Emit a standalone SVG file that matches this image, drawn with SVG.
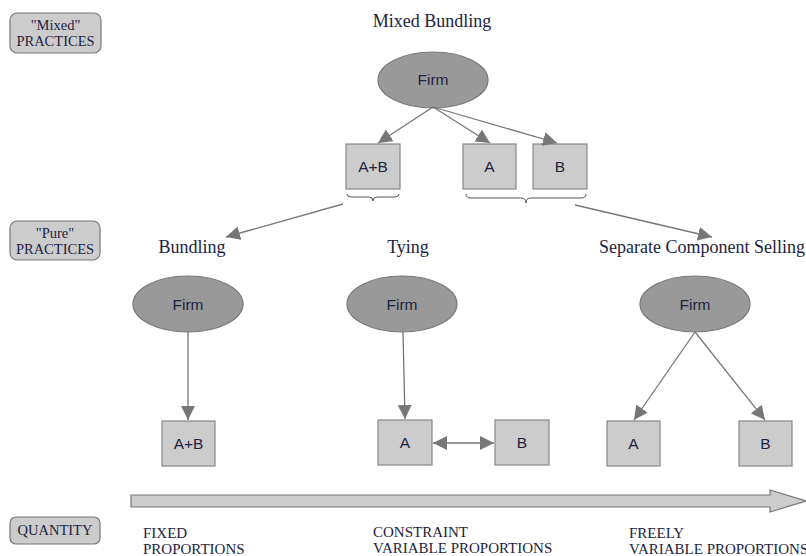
<svg xmlns="http://www.w3.org/2000/svg" width="806" height="556" viewBox="0 0 806 556">
<defs>
<marker id="ah" viewBox="0 0 10 10" refX="10" refY="5" markerWidth="14" markerHeight="14" markerUnits="userSpaceOnUse" orient="auto-start-reverse">
<path d="M0,0 L10,5 L0,10 z" fill="#777"/>
</marker>
</defs>
<style>
.tag{fill:#cccccc;stroke:#777;stroke-width:1.2}
.tagt{font-family:"Liberation Serif",serif;font-size:14.5px;fill:#1c2340;text-anchor:middle}
.title{font-family:"Liberation Serif",serif;font-size:18px;fill:#1c2340;text-anchor:middle}
.qt{font-family:"Liberation Serif",serif;font-size:15px;fill:#1c2340}
.firm{fill:#999999;stroke:#777;stroke-width:1.2}
.box{fill:#cccccc;stroke:#888;stroke-width:1.2}
.nt{font-family:"Liberation Sans",Arial,sans-serif;font-size:15.5px;fill:#1c2340;text-anchor:middle}
.edge{stroke:#777;stroke-width:1.3;fill:none}
.brace{stroke:#555;stroke-width:1;fill:none}
</style>
<rect width="806" height="556" fill="#fff"/>

<g id="tag-mixed"><rect class="tag" x="10" y="13" width="91" height="40" rx="7"/><text class="tagt" x="55.5" y="30">"Mixed"</text><text class="tagt" x="55.5" y="46">PRACTICES</text></g>
<g id="tag-pure"><rect class="tag" x="10" y="221" width="90" height="39" rx="7"/><text class="tagt" x="55" y="238">"Pure"</text><text class="tagt" x="55" y="254">PRACTICES</text></g>
<g id="tag-quantity"><rect class="tag" x="10" y="517" width="90" height="27" rx="6"/><text class="tagt" x="55" y="535">QUANTITY</text></g>

<g id="titles">
<text class="title" x="432" y="27">Mixed Bundling</text>
<text class="title" x="192" y="253">Bundling</text>
<text class="title" x="408" y="253">Tying</text>
<text class="title" x="702" y="253">Separate Component Selling</text>
</g>

<g id="firm-top"><ellipse class="firm" cx="433" cy="80" rx="55" ry="28"/><text class="nt" x="433" y="85">Firm</text></g>
<g id="mb-ab"><rect class="box" x="346" y="144" width="54" height="45"/><text class="nt" x="373" y="172">A+B</text></g>
<g id="mb-a"><rect class="box" x="463" y="144" width="53" height="45"/><text class="nt" x="489.5" y="172">A</text></g>
<g id="mb-b"><rect class="box" x="533" y="144" width="54" height="45"/><text class="nt" x="560" y="172">B</text></g>

<g id="firm-bundling"><ellipse class="firm" cx="188" cy="304" rx="55" ry="28"/><text class="nt" x="188" y="310">Firm</text></g>
<g id="firm-tying"><ellipse class="firm" cx="402" cy="304" rx="55" ry="28"/><text class="nt" x="402" y="310">Firm</text></g>
<g id="firm-separate"><ellipse class="firm" cx="695" cy="304" rx="55" ry="28"/><text class="nt" x="695" y="310">Firm</text></g>

<g id="b-ab"><rect class="box" x="162" y="421" width="53" height="45"/><text class="nt" x="188.5" y="449">A+B</text></g>
<g id="t-a"><rect class="box" x="378" y="420" width="54" height="45"/><text class="nt" x="405" y="448">A</text></g>
<g id="t-b"><rect class="box" x="495" y="420" width="54" height="45"/><text class="nt" x="522" y="448">B</text></g>
<g id="s-a"><rect class="box" x="607" y="421" width="53" height="45"/><text class="nt" x="633.5" y="449">A</text></g>
<g id="s-b"><rect class="box" x="739" y="421" width="53" height="45"/><text class="nt" x="765.5" y="449">B</text></g>

<g id="braces">
<path class="brace" d="M347,194 Q347,197 351,197 L369,197 Q373,197 373,201 Q373,197 377,197 L395,197 Q399,197 399,194"/>
<path class="brace" d="M466,194 Q466,198 471,198 L521,198 Q526,198 526,203 Q526,198 531,198 L581,198 Q586,198 586,194"/>
</g>

<g id="connectors">
<line class="edge" x1="433" y1="107" x2="378" y2="143" marker-end="url(#ah)"/>
<line class="edge" x1="433" y1="107" x2="490" y2="143" marker-end="url(#ah)"/>
<line class="edge" x1="433" y1="107" x2="557" y2="143" marker-end="url(#ah)"/>
<line class="edge" x1="343" y1="204" x2="226" y2="237" marker-end="url(#ah)"/>
<line class="edge" x1="575" y1="205" x2="712" y2="237" marker-end="url(#ah)"/>
<line class="edge" x1="188" y1="332" x2="188" y2="420" marker-end="url(#ah)"/>
<line class="edge" x1="403" y1="332" x2="405" y2="419" marker-end="url(#ah)"/>
<line class="edge" x1="695" y1="332" x2="634" y2="420" marker-end="url(#ah)"/>
<line class="edge" x1="695" y1="332" x2="765" y2="420" marker-end="url(#ah)"/>
<line class="edge" x1="433" y1="443" x2="494" y2="443" marker-start="url(#ah)" marker-end="url(#ah)"/>
</g>

<g id="quantity-arrow">
<path d="M131,495 L770,495 L770,490 L806,501 L770,512 L770,507 L131,507 Z" fill="#cccccc" stroke="#777" stroke-width="1.2"/>
</g>

<g id="quantity-labels">
<text class="qt" x="143" y="538">FIXED</text>
<text class="qt" x="143" y="554">PROPORTIONS</text>
<text class="qt" x="373" y="537">CONSTRAINT</text>
<text class="qt" x="373" y="553">VARIABLE PROPORTIONS</text>
<text class="qt" x="629" y="538">FREELY</text>
<text class="qt" x="629" y="554">VARIABLE PROPORTIONS</text>
</g>
</svg>
